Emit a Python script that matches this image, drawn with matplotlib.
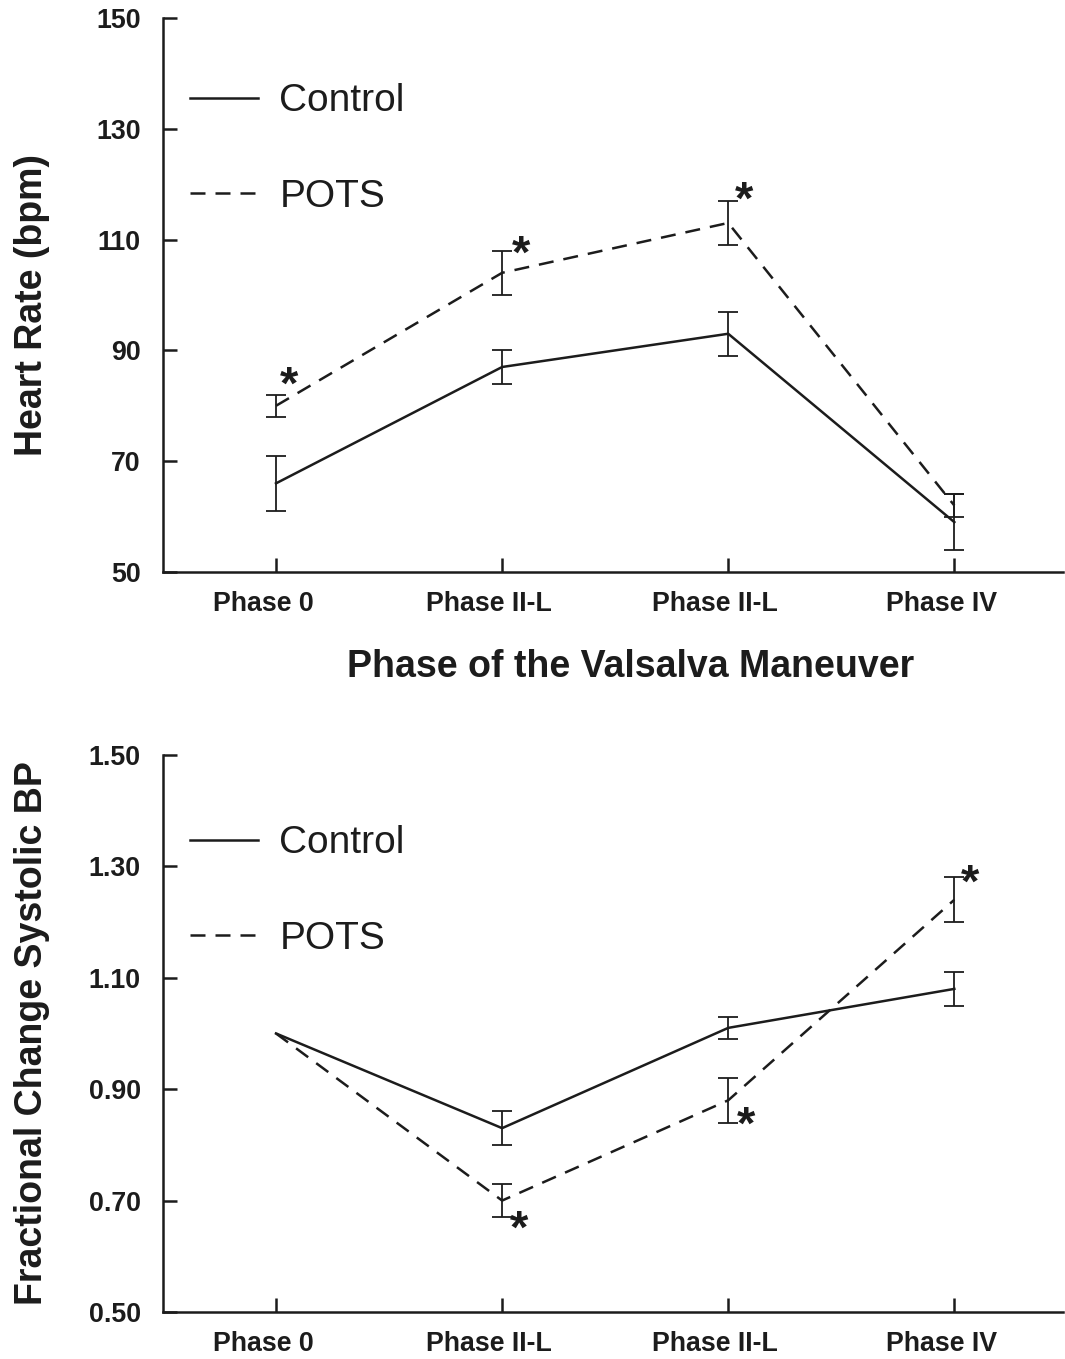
import numpy as np
import matplotlib.pyplot as plt
import matplotlib.transforms as mtransforms

plt.rcParams['font.family'] = ['Liberation Sans', 'DejaVu Sans']

phases = ["Phase 0", "Phase II-L", "Phase II-L", "Phase IV"]

# heart rate (bpm), mean and error
hr_control = [66, 87, 93, 59]
hr_control_err = [5, 3, 4, 5]
hr_pots = [80, 104, 113, 62]
hr_pots_err = [2, 4, 4, 2]
hr_star = [True, True, True, False]

# fractional change in systolic BP
bp_control = [1.00, 0.83, 1.01, 1.08]
bp_control_err = [0, 0.03, 0.02, 0.03]
bp_pots = [1.00, 0.70, 0.88, 1.24]
bp_pots_err = [0, 0.03, 0.04, 0.04]
bp_star = [False, True, True, True]
bp_star_side = [0, -1, -1, 1]   # star at top (+1) or bottom (-1) of error bar

# where the asterisks sit next to the error bar caps (points)
hr_star_off = [(9.4, 5.8), (13.7, -3.6), (11.5, -0.7), (0, 0)]
bp_star_off = [(0, 0), (12.2, -10), (13, -2.9), (11.5, -5)]

col = '#1c1c1c'
x = np.arange(len(phases))

fig = plt.figure(figsize=(10.65, 13.59), dpi=100)
ax1 = fig.add_axes([0.153, 0.5791, 0.845, 0.4077])
ax2 = fig.add_axes([0.153, 0.0346, 0.845, 0.4099])

# tick labels sit a little left of their ticks in the original
shift = mtransforms.ScaledTranslation(-13 / 100, 0, fig.dpi_scale_trans)


def draw(ax, ctrl, ctrl_err, pots, pots_err, leg_y):
    ax.plot(x, ctrl, color=col, lw=1.8, label="Control")
    ax.plot(x, pots, color=col, lw=1.8, linestyle=(0, (6, 4)), label="POTS")
    for vals, err in [(ctrl, ctrl_err), (pots, pots_err)]:
        v = np.array(vals)
        e = np.array(err)
        m = e > 0
        ax.errorbar(x[m], v[m], yerr=e[m], fmt='none', ecolor=col,
                    elinewidth=1.3, capsize=7, capthick=1.3)
    ax.set_xlim(-0.5, 3.48)
    ax.set_xticks(x)
    ax.set_xticklabels(phases)
    for s in ['top', 'right']:
        ax.spines[s].set_visible(False)
    for s in ['left', 'bottom']:
        ax.spines[s].set_linewidth(1.8)
        ax.spines[s].set_color(col)
    ax.tick_params(direction='in', length=10, width=1.8, color=col,
                   labelsize=19.3)
    ax.tick_params(axis='y', pad=16)
    ax.tick_params(axis='x', pad=14)
    for lab in ax.get_xticklabels():
        lab.set_transform(lab.get_transform() + shift)
    leg = ax.legend(loc='upper left', bbox_to_anchor=(0.03, leg_y), frameon=False,
                    fontsize=28, handlelength=1.75, handletextpad=0.55,
                    labelspacing=1.53, borderpad=0, borderaxespad=0)
    for t in leg.get_texts():
        t.set_color(col)


def bold_ticks(ax):
    for lab in ax.get_xticklabels() + ax.get_yticklabels():
        lab.set_fontweight('bold')
        lab.set_color(col)


# top panel
draw(ax1, hr_control, hr_control_err, hr_pots, hr_pots_err, 0.882)
ax1.set_ylim(50, 150)
ax1.set_yticks(np.arange(50, 151, 20))
bold_ticks(ax1)
ax1.set_ylabel("Heart Rate (bpm)", fontsize=27, fontweight='bold', color=col)
ax1.yaxis.set_label_coords(-0.125, 0.482)
ax1.set_xlabel("Phase of the Valsalva Maneuver", fontsize=27, fontweight='bold',
               color=col, labelpad=23)
ax1.xaxis.label.set_x(0.52)
for i in range(len(phases)):
    if hr_star[i]:
        ax1.annotate("*", (x[i], hr_pots[i] + hr_pots_err[i]), xytext=hr_star_off[i],
                     textcoords='offset points', fontsize=34, fontweight='bold',
                     ha='center', va='center', color=col)

# bottom panel
draw(ax2, bp_control, bp_control_err, bp_pots, bp_pots_err, 0.8735)
ax2.set_ylim(0.5, 1.5)
yt = np.arange(0.5, 1.51, 0.2)
ax2.set_yticks(yt)
ax2.set_yticklabels([f"{v:.2f}" for v in yt])
bold_ticks(ax2)
ax2.set_ylabel("Fractional Change Systolic BP", fontsize=27, fontweight='bold', color=col)
ax2.yaxis.set_label_coords(-0.125, 0.5)
for i in range(len(phases)):
    if bp_star[i]:
        side = bp_star_side[i]
        ax2.annotate("*", (x[i], bp_pots[i] + side * bp_pots_err[i]), xytext=bp_star_off[i],
                     textcoords='offset points', fontsize=34, fontweight='bold',
                     ha='center', va='center', color=col)

fig.savefig("out.png", dpi=100)
